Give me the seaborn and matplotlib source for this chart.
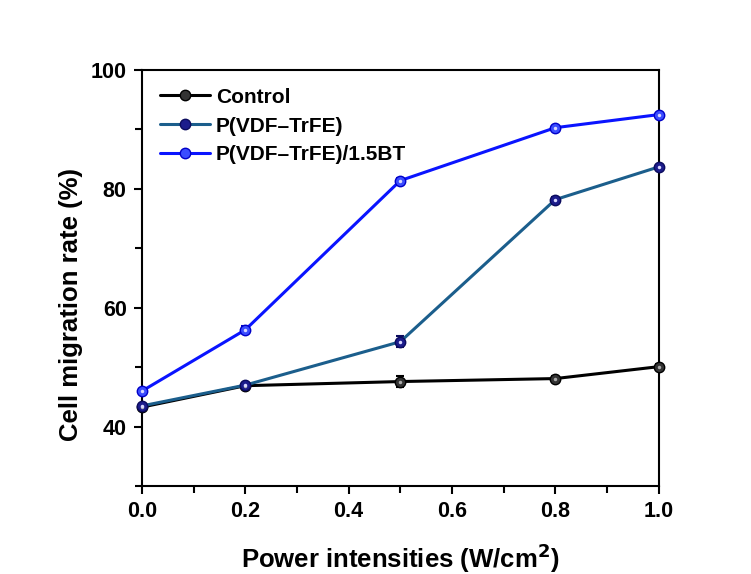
import matplotlib
matplotlib.use("Agg")
import matplotlib.pyplot as plt
from matplotlib.ticker import MultipleLocator
import seaborn as sns
import numpy as np

# data
power = [0.0, 0.2, 0.5, 0.8, 1.0]
control = [43.3, 46.9, 47.6, 48.1, 50.1]
control_err = [0.4, 0.3, 0.9, 0.4, 0.5]
pvdf = [43.5, 47.0, 54.3, 78.2, 83.7]
pvdf_err = [0.3, 0.3, 0.9, 0.4, 0.4]
pvdf_bt = [46.0, 56.3, 81.4, 90.3, 92.5]
pvdf_bt_err = [0.3, 0.6, 0.4, 0.3, 0.3]

labels = ["Control", "P(VDF\u2013TrFE)", "P(VDF\u2013TrFE)/1.5BT"]
line_colors = ["#000000", "#1b5e8c", "#0a14ff"]
marker_faces = ["#333333", "#1c1c8c", "#3a4cff"]
marker_edges = ["#000000", "#0b0b5e", "#0000c8"]

sns.set_style("ticks")
plt.rcParams["font.family"] = ["Liberation Sans", "DejaVu Sans"]
plt.rcParams["font.weight"] = "bold"
plt.rcParams["text.color"] = "black"
plt.rcParams["axes.labelcolor"] = "black"
plt.rcParams["xtick.color"] = "black"
plt.rcParams["ytick.color"] = "black"
plt.rcParams["axes.edgecolor"] = "black"

fig = plt.figure(figsize=(7.51, 5.74), dpi=100)
ax = fig.add_axes([0.189, 0.153, 0.688, 0.725])

series = [(control, control_err), (pvdf, pvdf_err), (pvdf_bt, pvdf_bt_err)]
for (vals, errs), lab, lc, mf, me in zip(series, labels, line_colors,
                                         marker_faces, marker_edges):
    ax.errorbar(power, vals, yerr=errs, fmt="none", ecolor=me,
                elinewidth=1.5, capsize=3, capthick=1.5, clip_on=False,
                zorder=2)
    sns.lineplot(x=power, y=vals, ax=ax, color=lc, lw=2.2, marker="o",
                 markersize=7.5, markerfacecolor=mf, markeredgecolor=me,
                 markeredgewidth=1, label=lab, clip_on=False, zorder=3)
    # small highlight to mimic the shaded sphere markers
    ax.plot(power, vals, ls="none", marker="o", markersize=2.5,
            color="#d8d8ff" if lc != "#000000" else "#aaaaaa",
            markeredgewidth=0, clip_on=False, zorder=4)

ax.set_xlim(0, 1.0)
ax.set_ylim(30, 100)
ax.xaxis.set_major_locator(MultipleLocator(0.2))
ax.xaxis.set_minor_locator(MultipleLocator(0.1))
ax.set_yticks([40, 60, 80, 100])
ax.yaxis.set_minor_locator(MultipleLocator(10))
ax.tick_params(which="major", direction="out", length=6, width=1.5,
               labelsize=15.5, pad=5)
ax.tick_params(which="minor", direction="out", length=5, width=1.5)
for lab in ax.get_xticklabels() + ax.get_yticklabels():
    lab.set_fontweight("bold")
for sp in ax.spines.values():
    sp.set_visible(True)
    sp.set_linewidth(1.5)

ax.set_xlabel("Power intensities (W/cm$^\\mathbf{2}$)", fontsize=18.5,
              fontweight="bold", labelpad=14)
ax.set_ylabel("Cell migration rate (%)", fontsize=18.5, fontweight="bold")
ax.yaxis.set_label_coords(-0.114, 0.436)

ax.legend(loc="upper left", frameon=False, handlelength=2.4,
          prop={"weight": "bold", "size": 15}, labelspacing=0.47,
          borderaxespad=0.5, borderpad=0.35, handletextpad=0.3)

fig.savefig("out.png", dpi=100)
